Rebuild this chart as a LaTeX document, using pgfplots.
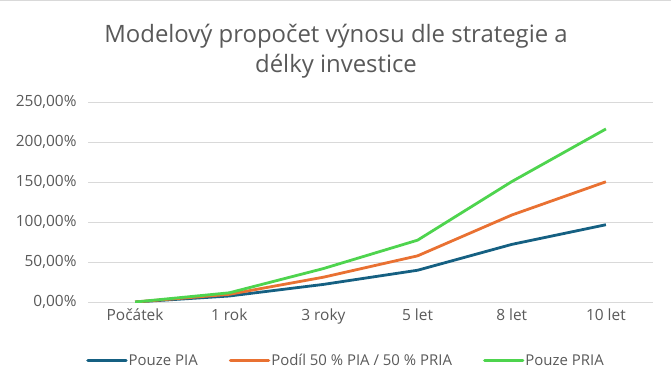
\documentclass[border=0pt]{standalone}
\usepackage{pgfplots}
\pgfplotsset{compat=1.18}
\usepackage{fontspec}
\setmainfont{Open Sans}
\definecolor{txt}{HTML}{595959}
\definecolor{grd}{HTML}{D9D9D9}
\definecolor{cblue}{HTML}{156082}
\definecolor{corange}{HTML}{E97132}
\definecolor{cgreen}{HTML}{4ED44E}
\begin{document}
\begin{tikzpicture}[x=1bp,y=1bp]
\path[use as bounding box] (0,0) rectangle (671,383);
\draw[grd,line width=1bp] (0,382.5) -- (671,382.5);
\node[txt,font=\fontsize{24}{30}\selectfont,align=center] at (336,332) {Modelový propočet výnosu dle strategie a\\délky investice};
\begin{axis}[
  at={(88bp,81bp)}, anchor=south west,
  scale only axis, width=565bp, height=200bp,
  xmin=-0.5, xmax=5.5, ymin=0, ymax=250,
  xtick={0,1,2,3,4,5},
  xticklabels={Počátek,1 rok,3 roky,5 let,8 let,10 let},
  ytick={0,50,100,150,200,250},
  yticklabel={\pgfmathprintnumber[assume math mode=true,fixed,fixed zerofill,precision=2,use comma]{\tick}\%},
  ymajorgrids, grid style={grd,line width=0.8bp},
  axis line style={draw=none}, tick style={draw=none},
  ticklabel style={txt,font=\fontsize{15.5}{17}\selectfont},
  yticklabel style={xshift=-8bp},
  xticklabel style={yshift=-3bp},
  legend columns=3,
  legend style={at={(0.5,-0.0)}, anchor=north, yshift=-48bp, xshift=-25bp, draw=none, fill=none,
    font=\fontsize{15}{17}\selectfont, text=txt, inner xsep=0pt,
    /tikz/every even column/.append style={column sep=30bp},
    nodes={inner xsep=1bp}},
  legend image code/.code={\draw[#1,line width=3.5bp,line cap=round] (0bp,0bp) -- (38bp,0bp);},
  every axis plot/.append style={line width=2.8bp, line join=round, mark=none},
]
\addplot[cblue] coordinates {(0,0) (1,7.5) (2,22) (3,39.7) (4,72) (5,96.6)};
\addlegendentry{Pouze PIA}
\addplot[corange] coordinates {(0,0) (1,9.6) (2,31) (3,57.7) (4,108.7) (5,150.3)};
\addlegendentry{Podíl 50 \% PIA / 50 \% PRIA}
\addplot[cgreen] coordinates {(0,0) (1,11.5) (2,41.8) (3,77.3) (4,150.5) (5,216.3)};
\addlegendentry{Pouze PRIA}
\end{axis}
\end{tikzpicture}
\end{document}
